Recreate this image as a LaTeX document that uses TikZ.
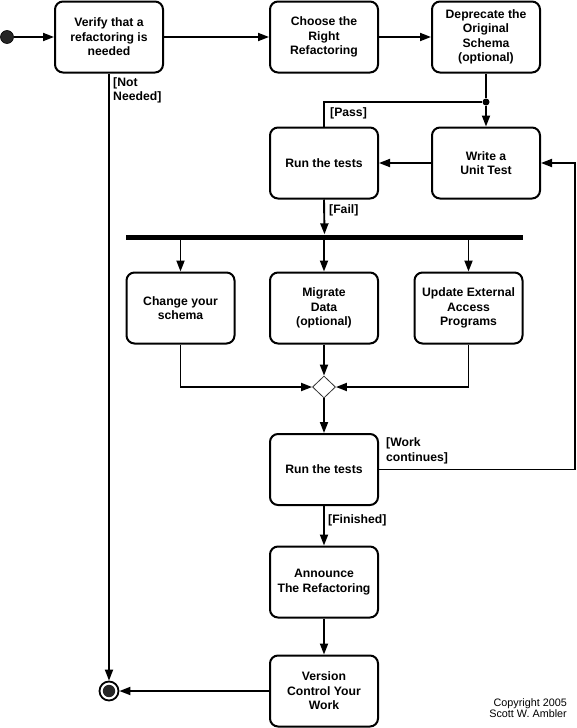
\documentclass[tikz,border=0pt]{standalone}
\usepackage{fontspec}
\setmainfont{Liberation Sans}
\usetikzlibrary{arrows.meta,shapes.geometric}
\begin{document}
\begin{tikzpicture}[x=1pt,y=-1pt,
  act/.style={draw, line width=2pt, rounded corners=8pt, minimum width=108pt, minimum height=71pt, align=center, font=\fontsize{12.2}{14.4}\selectfont\bfseries, inner sep=2pt},
  lbl/.style={font=\fontsize{12.2}{14.4}\selectfont\bfseries, inner sep=0pt, align=left},
  flow/.style={line width=1.9pt, -{Triangle[length=11pt,width=8pt]}},
  plain/.style={line width=1.9pt}]
\useasboundingbox (0,0) rectangle (577,728);
% activities
\node[act] (verify) at (109,37) {Verify that a\\refactoring is\\needed};
\node[act] (choose) at (324,37) {Choose the\\Right\\Refactoring};
\node[act] (deprec) at (486,37) {Deprecate the\\Original\\Schema\\(optional)};
\node[act] (run1) at (324,163) {Run the tests};
\node[act] (write) at (486,163) {Write a\\Unit Test};
\node[act] (change) at (180.5,308) {Change your\\schema};
\node[act] (migrate) at (324,308) {Migrate\\Data\\(optional)};
\node[act] (update) at (468.5,308) {Update External\\Access\\Programs};
\node[act] (run2) at (324,469.5) {Run the tests};
\node[act] (announce) at (324,582) {Announce\\The Refactoring};
\node[act] (version) at (324,691) {Version\\Control Your\\Work};
% control nodes
\node[circle, fill=black!85, draw=black, line width=0.6pt, minimum size=13pt, inner sep=0pt] (start) at (7,37) {};
\node[circle, draw, line width=1.8pt, minimum size=19pt, inner sep=0pt,
  path picture={\fill[black!85] (path picture bounding box.center) circle (6.2pt);}] (final) at (109,691) {};
\node[circle, fill, inner sep=0pt, minimum size=7pt] (dot) at (486,102) {};
\node[rectangle, fill, inner sep=0pt, minimum width=397pt, minimum height=5pt] (bar) at (324.5,237) {};
\node[diamond, draw=black!80, fill=white, line width=0.8pt, inner sep=0pt, minimum width=23pt, minimum height=22pt] (dia) at (324,387) {};
\coordinate (loopR) at (575,469.5);
% connectors
\draw[flow] (start) -- (verify.west);
\draw[flow] (verify.east) -- (choose.west);
\draw[flow] (choose.east) -- (deprec.west);
\draw[plain] (deprec.south) -- (dot);
\draw[flow] (dot) -- (write.north);
\draw[plain] (run1.north) |- (dot);
\draw[flow] (write.west) -- (run1.east);
\draw[flow] (run1.south) -- (bar.north);
\draw[flow] (change.north |- bar.south) -- (change.north);
\draw[flow] (migrate.north |- bar.south) -- (migrate.north);
\draw[flow] (update.north |- bar.south) -- (update.north);
\draw[flow] (change.south) |- (dia.west);
\draw[flow] (migrate.south) -- (dia.north);
\draw[flow] (update.south) |- (dia.east);
\draw[flow] (dia.south) -- (run2.north);
\draw[flow] (run2.east) -- (loopR) |- (write.east);
\draw[flow] (run2.south) -- (announce.north);
\draw[flow] (announce.south) -- (version.north);
\draw[flow] (version.west) -- (final.east);
\draw[flow] (verify.south) -- (final.north);
% guards
\node[lbl, anchor=west] (notneeded) at (113,90.5) {[Not\\Needed]};
\node[lbl, anchor=west] (pass) at (330,113) {[Pass]};
\node[lbl, anchor=west] (fail) at (329,210) {[Fail]};
\node[lbl, anchor=west] (workcont) at (386,451) {[Work\\continues]};
\node[lbl, anchor=west] (finished) at (328,520) {[Finished]};
% copyright
\node[font=\fontsize{10.8}{11}\selectfont, align=right, inner sep=0pt, anchor=east] (copy) at (567,708) {Copyright 2005\\Scott W. Ambler};
\end{tikzpicture}
\end{document}
